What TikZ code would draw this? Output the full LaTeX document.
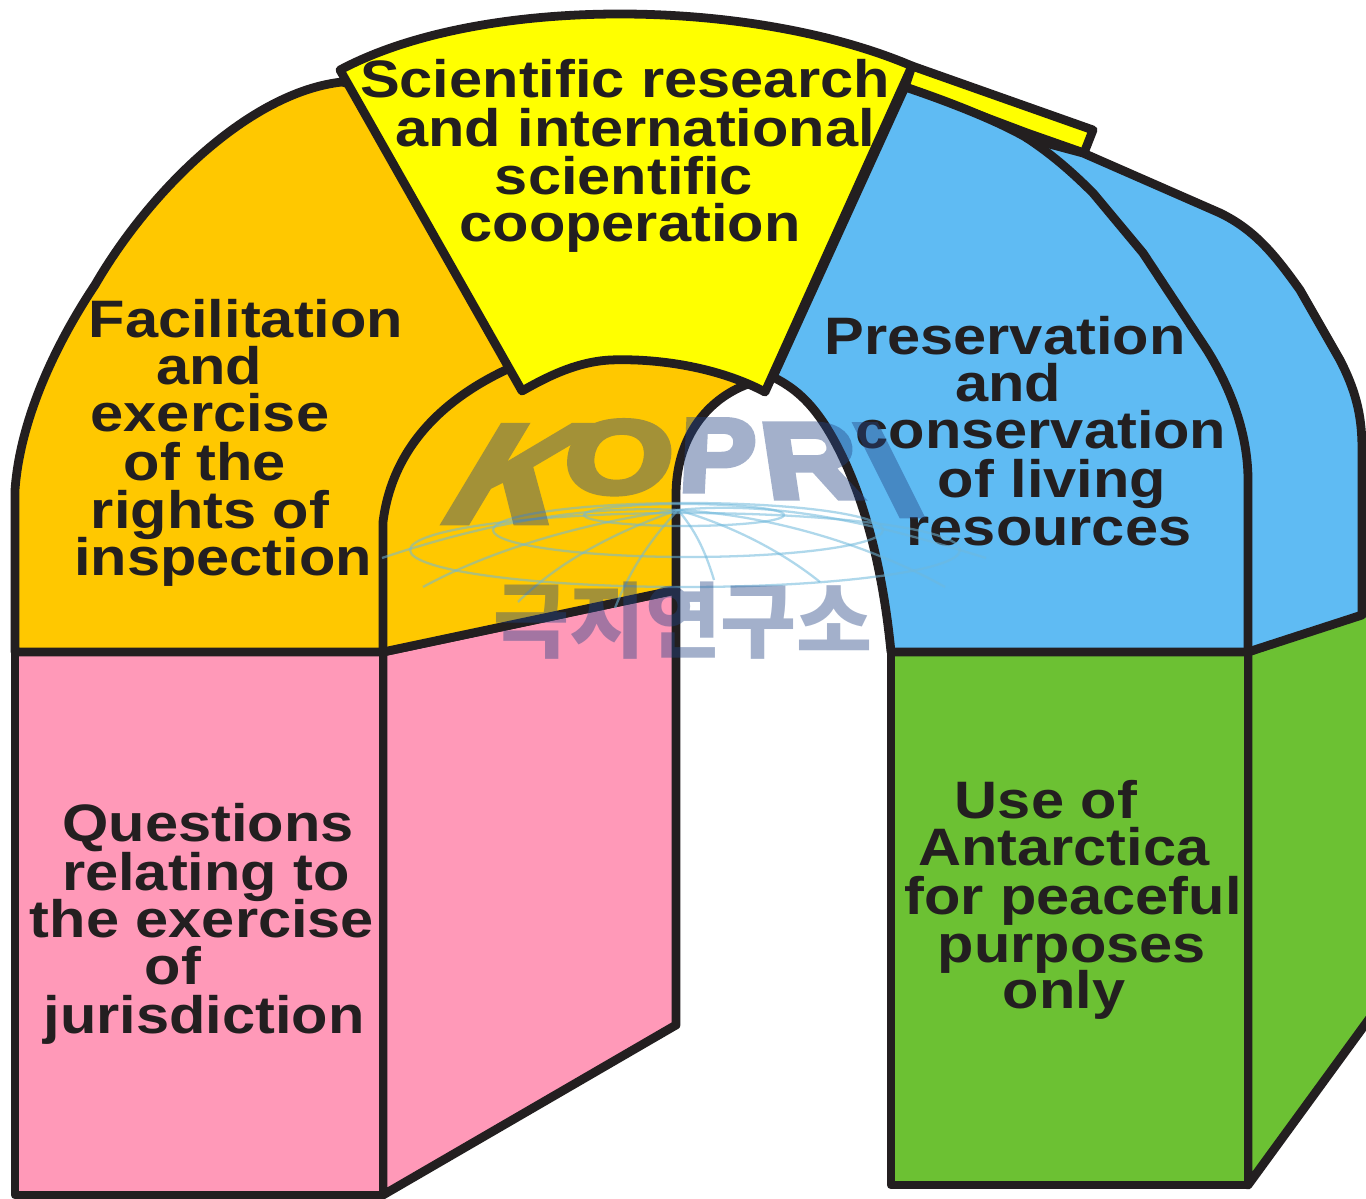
\documentclass[tikz,border=0pt]{standalone}
\usepackage{fontspec}
\setmainfont[FakeStretch=1.13]{Liberation Sans}
\newfontfamily\cjkfont{Noto Sans CJK KR}
\newfontfamily\wmfont[FakeBold=5]{Liberation Sans}
\definecolor{ink}{HTML}{231F20}
\definecolor{orangef}{HTML}{FFC800}
\definecolor{yellowf}{HTML}{FFFF00}
\definecolor{bluef}{HTML}{5FBBF3}
\definecolor{pinkf}{HTML}{FF99B8}
\definecolor{greenf}{HTML}{6CC133}
\definecolor{wmark}{HTML}{244585}
\definecolor{globeline}{HTML}{6FB8DC}
\tikzset{
  panel/.style={draw=ink,line width=5pt,line join=round},
  edge/.style={draw=ink,line width=5pt,line cap=round,line join=round},
  lbl/.style={anchor=base,inner sep=0pt,text=ink,font=\fontsize{30}{36}\selectfont\bfseries},
  wm/.style={anchor=base,inner sep=0pt,text=wmark,transform shape},
  globe/.style={draw=globeline,line width=1.3pt,opacity=.55}
}
\begin{document}
\begin{tikzpicture}[x=0.02cm,y=-0.02cm]
\useasboundingbox (0,0) rectangle (1366,1199);
\fill[white] (0,0) rectangle (1366,1199);
\clip (0,0) rectangle (1366,1199);

% pink side and front
\path[panel,fill=pinkf] (383,652) -- (676,590) -- (676,1025) -- (383,1195) -- cycle;
\path[panel,fill=pinkf] (15,652) -- (383,652) -- (383,1195) -- (15,1195) -- cycle;

% green side and front
\path[panel,fill=greenf] (1248,652) -- (1372,608) -- (1372,1015) -- (1248,1185) -- cycle;
\path[panel,fill=greenf] (891,652) -- (1248,652) -- (1248,1185) -- (891,1185) -- cycle;

% orange arch (its upper edge runs hidden under the yellow wedge)
\path[panel,fill=orangef] (15,652) -- (15,490)
  .. controls (20,420) and (55,345) .. (95,285)
  .. controls (150,190) and (250,92) .. (342,82)
  -- (600,150) -- (748,384)
  .. controls (705,400) and (676,440) .. (676,495)
  -- (676,590) -- (383,652) -- cycle;
\draw[edge] (383,652) -- (383,522)
  .. controls (392,450) and (440,400) .. (510,368);

% yellow strip
\path[panel,fill=yellowf] (912,66) -- (1093,130) -- (1084,153) -- (1027,133) -- (905,87) -- cycle;

% blue arch
\path[panel,fill=bluef] (773,377)
  -- (905,87)
  .. controls (950,102) and (1000,122) .. (1027,138)
  -- (1083,153)
  -- (1220,213)
  .. controls (1255,230) and (1275,255) .. (1300,290)
  -- (1340,360)
  .. controls (1358,395) and (1362,420) .. (1362,450)
  -- (1362,615) -- (1248,652) -- (891,652)
  .. controls (882,560) and (860,480) .. (825,425)
  .. controls (810,402) and (795,388) .. (773,377) -- cycle;
\draw[edge] (1027,138)
  .. controls (1045,150) and (1065,165) .. (1093,193)
  -- (1143,253)
  -- (1207,350)
  .. controls (1235,395) and (1248,440) .. (1248,480)
  -- (1248,652);

% yellow wedge
\path[panel,fill=yellowf] (340,70)
  .. controls (480,-5) and (750,-3) .. (912,66)
  -- (765,392)
  .. controls (720,368) and (660,358) .. (610,360)
  .. controls (575,362) and (545,378) .. (522,391) -- cycle;

% labels
\node[lbl] (s1) at (625,98) {Scientific research};
\node[lbl] (s2) at (635,147) {and international};
\node[lbl] (s3) at (624,195) {scientific};
\node[lbl] (s4) at (630,242) {cooperation};

\node[lbl] (f1) at (246,338) {Facilitation};
\node[lbl] (f2) at (209,385) {and};
\node[lbl] (f3) at (210,432) {exercise};
\node[lbl] (f4) at (205,480) {of the};
\node[lbl] (f5) at (210,528) {rights of};
\node[lbl] (f6) at (223,575) {inspection};

\node[lbl] (p1) at (1005,355) {Preservation};
\node[lbl] (p2) at (1008,402) {and};
\node[lbl] (p3) at (1041,449) {conservation};
\node[lbl] (p4) at (1052,498) {of living};
\node[lbl] (p5) at (1049,545) {resources};

\node[lbl] (q1) at (208,841) {Questions};
\node[lbl] (q2) at (206,890) {relating to};
\node[lbl] (q3) at (202,937) {the exercise};
\node[lbl] (q4) at (173,984) {of};
\node[lbl] (q5) at (204,1033) {jurisdiction};

\node[lbl] (u1) at (1046,818) {Use of};
\node[lbl] (u2) at (1064,865) {Antarctica};
\node[lbl] (u3) at (1073,914) {for peaceful};
\node[lbl] (u4) at (1072,962) {purposes};
\node[lbl] (u5) at (1064,1008) {only};

% watermark: globe
\draw[globe] (684,515) ellipse [x radius=100,y radius=11];
\draw[globe] (688,530) ellipse [x radius=195,y radius=27];
\draw[globe] (685,550) ellipse [x radius=275,y radius=37];
\draw[globe] (678,510) .. controls (580,505) and (480,525) .. (382,558);
\draw[globe] (678,510) .. controls (600,520) and (500,545) .. (423,587);
\draw[globe] (678,510) .. controls (620,530) and (560,560) .. (518,602);
\draw[globe] (678,510) .. controls (650,540) and (630,570) .. (615,608);
\draw[globe] (678,510) .. controls (695,530) and (705,550) .. (714,580);
\draw[globe] (678,510) .. controls (730,525) and (780,550) .. (820,582);
\draw[globe] (678,510) .. controls (770,515) and (870,545) .. (945,587);
\draw[globe] (678,510) .. controls (780,500) and (880,525) .. (986,558);

% watermark: letters
\begin{scope}[transparency group,opacity=.42,font=\wmfont\fontsize{72}{72}\selectfont\bfseries]
\node[wm,xslant=.6,xscale=1.2,yscale=1.1] (k1) at (490,522) {K};
\node[wm,xslant=.12,xscale=1.1,yscale=.82] (k2) at (615,493) {O};
\node[wm,xslant=.05,xscale=.9,yscale=.82] (k3) at (716,491) {P};
\node[wm,xslant=-.15,xscale=1.05,yscale=.85] (k4) at (816,498) {R};
\node[wm,xslant=-.5,xscale=1.05,yscale=1.03] (k5) at (911,515) {I};
\end{scope}
\node[wm,text opacity=.42,font=\cjkfont\fontsize{47}{47}\selectfont\bfseries] (k6) at (683,651) {극지연구소};
\end{tikzpicture}
\end{document}
